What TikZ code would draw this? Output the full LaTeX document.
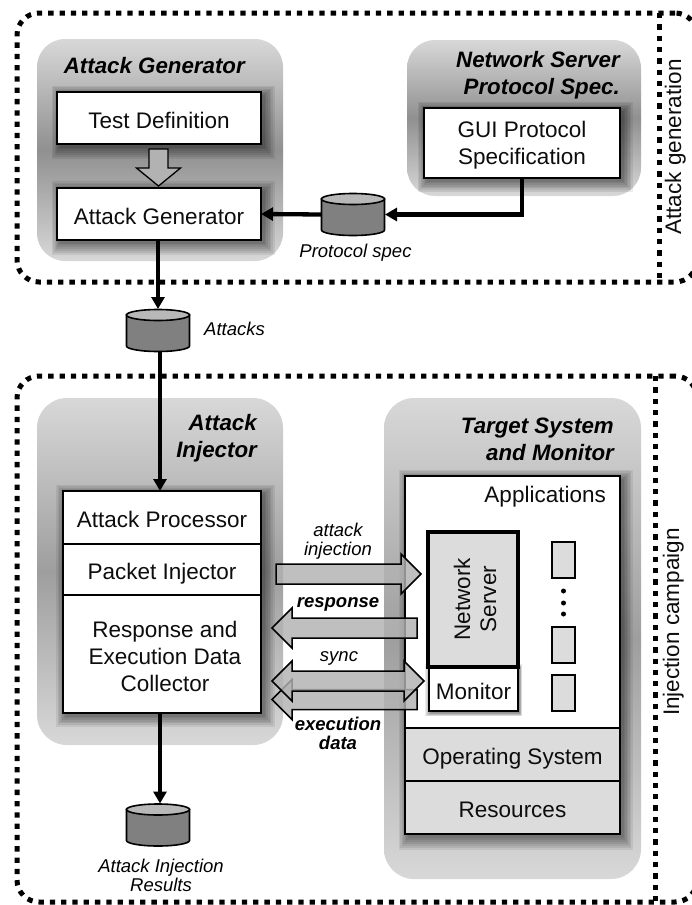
\documentclass[tikz,border=0pt]{standalone}
\usepackage{fontspec}
\setmainfont{Liberation Sans}
\usetikzlibrary{arrows.meta,calc}
\definecolor{panelend}{HTML}{D8D8D8}
\definecolor{panelmid}{HTML}{909090}
\definecolor{boxgray}{HTML}{DCDCDC}
\definecolor{blockfill}{HTML}{B2B2B2}
\tikzset{
  mainfont/.style={font=\fontsize{22.5}{27}\selectfont},
  titlefont/.style={font=\fontsize{22.3}{27}\selectfont\bfseries\itshape,inner sep=0pt},
  notefont/.style={font=\fontsize{18.5}{19}\selectfont\itshape,inner sep=0pt},
  boldnote/.style={font=\fontsize{18.5}{19}\selectfont\bfseries\itshape,inner sep=0pt},
  panel/.style={rounded corners=28pt,top color=panelend,bottom color=panelend,middle color=panelmid,draw=none,inner sep=0pt,outer sep=0pt},
  plainbox/.style={draw=black,line width=1.8pt,fill=white,inner sep=0pt,outer sep=0pt,align=center,mainfont,text=black!95,
    execute at begin node={\rule{0pt}{24pt}},execute at end node={\rule[-4pt]{0pt}{4pt}}},
  boxtext/.style={mainfont,align=center,inner sep=0pt,text=black!95},
  smallbox/.style={draw=black,line width=1.3pt,fill=boxgray,inner sep=0pt,outer sep=0pt},
  dotregion/.style={draw=black,line width=5pt,dash pattern=on 5.3pt off 6pt,rounded corners=22pt},
  dotline/.style={draw=black,line width=5pt,dash pattern=on 5.3pt off 6pt},
  conn/.style={draw=black,line width=4.3pt,-{Triangle[length=12pt,width=13pt]}},
  storebase/.style={inner sep=0pt,outer sep=0pt,minimum width=64pt,minimum height=43pt},
  blockstyle/.style={draw=black,line width=1.5pt,fill=blockfill,fill opacity=.82,line join=miter},
}
% soft drop shadow: outer rectangle, inner (box) rectangle
\newcommand\softshadow[8]{%
  \foreach \t in {0,.16,.32,.48,.64,.8,.95}{%
    \fill[black,opacity=.075] ({#1+(#5-#1)*\t},{#2+(#6-#2)*\t}) rectangle ({#3+(#7-#3)*\t},{#4+(#8-#4)*\t});
  }%
}
% data store: name, x, y
\newcommand\storeat[3]{%
  \node[storebase] (#1) at (#2,#3) {};
  \draw[line width=1.6pt,fill=black!50] (#2-31.5,#3-15.5) -- (#2-31.5,#3+15.5)
     arc[start angle=180,end angle=360,x radius=31.5pt,y radius=5.5pt] -- (#2+31.5,#3-15.5) -- cycle;
  \draw[line width=1.6pt,fill=black!28] (#2,#3-15.5) ellipse[x radius=31.5pt,y radius=5.5pt];
}
% single block arrow from coordinate #1 (tail) to #2 (tip)
\newcommand\blockone[2]{%
  \path let \p1=(#1),\p2=(#2),\n1={ifthenelse(\x2>\x1,1,-1)} in
    [blockstyle,draw] (\x1,\y1+10pt) -- (\x2-\n1*20pt,\y1+10pt) -- (\x2-\n1*20pt,\y1+20pt) -- (\x2,\y1)
    -- (\x2-\n1*20pt,\y1-20pt) -- (\x2-\n1*20pt,\y1-10pt) -- (\x1,\y1-10pt) -- cycle;
}
% double block arrow between coordinates #1 and #2
\newcommand\blocktwo[2]{%
  \path let \p1=(#1),\p2=(#2) in
    [blockstyle,draw] (\x1,\y1) -- (\x1+20pt,\y1+20pt) -- (\x1+20pt,\y1+10pt) -- (\x2-20pt,\y1+10pt) -- (\x2-20pt,\y1+20pt) -- (\x2,\y1)
    -- (\x2-20pt,\y1-20pt) -- (\x2-20pt,\y1-10pt) -- (\x1+20pt,\y1-10pt) -- (\x1+20pt,\y1-20pt) -- cycle;
}
\begin{document}
\begin{tikzpicture}[x=1pt,y=-1pt]
\useasboundingbox (0,0) rectangle (692,905);
\clip (0,0) rectangle (692,905);
\fill[white] (0,0) rectangle (692,905);

% ---------- dotted regions
\node[dotregion,minimum width=680pt,minimum height=269pt] (genregion) at (357,147.5) {};
\node[dotregion,minimum width=680pt,minimum height=526pt] (injregion) at (357,639) {};
\coordinate (gentop) at (659,13);
\coordinate (genbot) at (659,282);
\coordinate (injtop) at (655,376);
\coordinate (injbot) at (655,902);
\draw[dotline] (gentop) -- (genbot);
\draw[dotline] (injtop) -- (injbot);

% ---------- panels
\node[panel,minimum width=246pt,minimum height=222pt] (agpanel) at (160,150) {};
\node[panel,minimum width=234pt,minimum height=156pt] (nspanel) at (524,118) {};
\node[panel,minimum width=246pt,minimum height=347pt,rounded corners=30pt,middle color=black!38] (aipanel) at (160,571.5) {};
\node[panel,minimum width=257pt,minimum height=481pt,rounded corners=30pt,middle color=black!38] (tspanel) at (512.5,638.5) {};

% ---------- shadows
\softshadow{52}{86}{275}{159}{60}{95}{264}{147}
\softshadow{52}{181}{275}{255}{60}{191}{264}{243}
\softshadow{418}{102}{633}{192}{427}{111}{623}{181}
\softshadow{56}{485}{275}{727}{66}{494}{264}{716}
\softshadow{399}{470}{633}{850}{408}{479}{623}{837}

% ---------- titles
\node[titlefont,anchor=east,align=right] at (245,66) {Attack Generator};
\node[titlefont,anchor=east,align=right] at (620,75.5) {Network Server\\Protocol Spec.};
\node[titlefont,anchor=east,align=right] at (257,438.5) {Attack\\Injector};
\node[titlefont,anchor=east,align=right] at (614,439) {Target System\\and Monitor};

% ---------- attack generation boxes
\node[plainbox,minimum width=204pt,minimum height=52pt] (testdef) at (159,118) {Test Definition};
\node[plainbox,minimum width=204pt,minimum height=52pt] (attgen) at (159,214) {Attack Generator};
\node[plainbox,minimum width=196pt,minimum height=70pt] (guispec) at (522,143) {};
\node[boxtext] at (522,145) {GUI Protocol\\Specification};

% hollow arrow between test definition and attack generator
\coordinate (hollowtop) at (158.5,149);
\coordinate (hollowtip) at (158.5,186);
\path let \p1=(hollowtop),\p2=(hollowtip) in
  [draw=black,line width=1.3pt,fill=blockfill]
  (\x1-9.5pt,\y1) -- (\x1+9.5pt,\y1) -- (\x1+9.5pt,\y1-19pt) -- (\x1+22pt,\y1-19pt) -- (\x2,\y2)
  -- (\x1-22pt,\y1-19pt) -- (\x1-9.5pt,\y1-19pt) -- cycle;

% ---------- data stores
\storeat{protostore}{353}{214.5}
\storeat{attstore}{158}{330.5}
\storeat{resstore}{158}{825}

\node[notefont] (protolabel) at (355.5,253) {Protocol spec};
\node[notefont] (attlabel) at (234.5,329) {Attacks};
\node[notefont,align=center] at (161,875) {Attack Injection\\Results};

% ---------- injector boxes
\node[plainbox,minimum width=198pt,minimum height=53pt] (attproc) at (162,517.5) {Attack Processor};
\node[plainbox,minimum width=198pt,minimum height=51pt] (pktinj) at (162,569.5) {Packet Injector};
\node[plainbox,minimum width=198pt,minimum height=118pt] (collector) at (162,654) {};
\node[boxtext] at (165,656) {Response and\\Execution Data\\Collector};

% ---------- target boxes
\node[plainbox,minimum width=215pt,minimum height=252pt] (apps) at (512.5,602) {};
\node[plainbox,fill=boxgray,minimum width=215pt,minimum height=53pt] (opsys) at (512.5,754.5) {Operating System};
\node[plainbox,fill=boxgray,minimum width=215pt,minimum height=53pt] (resources) at (512.5,807.5) {Resources};
\node[mainfont,anchor=east,text=black!95,inner sep=0pt] at (606,497) {Applications};
\softshadow{425}{664}{522}{716}{431}{669}{520}{713}
\node[plainbox,line width=1.4pt,minimum width=89pt,minimum height=44pt] (monitor) at (473.5,689) {Monitor};
\node[draw=black,fill=boxgray,line width=3.6pt,inner sep=0pt,outer sep=0pt,minimum width=90pt,minimum height=135pt] (netserver) at (473,599.5) {};
\node[mainfont,rotate=90,align=center,text=black!95] at (475,599) {Network\\[-1pt]Server};
\node[smallbox,minimum width=23pt,minimum height=36pt] (app1) at (563.5,560) {};
\node[smallbox,minimum width=23pt,minimum height=36pt] (app2) at (563.5,645) {};
\node[smallbox,minimum width=23pt,minimum height=36pt] (app3) at (563.5,693) {};
\fill[black] (563.5,591) circle (2.5pt) (563.5,603) circle (2.5pt) (563.5,614) circle (2.5pt);

% ---------- block arrows
\coordinate (injtail) at (276,574);
\coordinate (injtip) at (421,574);
\coordinate (resptail) at (417,628);
\coordinate (resptip) at (272,628);
\coordinate (exectail) at (417,699.5);
\coordinate (exectip) at (272,699.5);
\coordinate (syncl) at (272,681);
\coordinate (syncr) at (424,681);
\blockone{injtail}{injtip}
\blockone{resptail}{resptip}
\blockone{exectail}{exectip}
\blocktwo{syncl}{syncr}

\node[notefont,align=center] at (338,541) {attack\\injection};
\node[boldnote] at (338,604) {response};
\node[notefont] at (339,658) {sync};
\node[boldnote,align=center] at (338,733.5) {execution\\data};

% ---------- line connectors
\draw[conn] (attgen.south -| attstore.north) -- (attstore.north);
\draw[conn] (attstore.south -| aipanel.center) -- (attproc.north -| aipanel.center);
\draw[conn] (collector.south -| aipanel.center) -- (resstore.north -| aipanel.center);
\draw[conn] (guispec.south) |- (protostore.east);
\draw[conn] (protostore.west) -- (attgen.east);

% ---------- region labels
\node[mainfont,rotate=90,anchor=base,text=black!95] at (681,147) {Attack generation};
\node[mainfont,rotate=90,anchor=base,text=black!95] at (679,622) {Injection campaign};
\end{tikzpicture}
\end{document}
